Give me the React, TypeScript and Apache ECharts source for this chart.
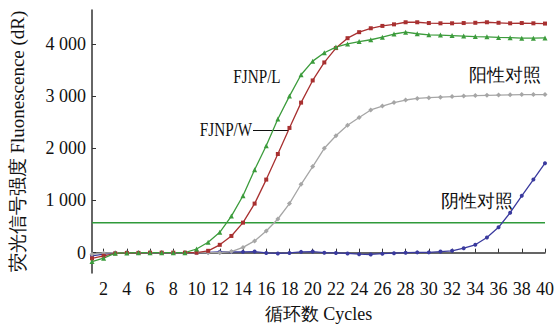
import React, { useEffect, useRef } from "react";
import * as echarts from "echarts";

const cycles = Array.from({ length: 40 }, (_, i) => i + 1);

const fjnpL = [-170, -105, -10, -5, 0, 0, 0, 0, 0, 70, 200, 390, 700, 1090, 1590, 2050, 2560, 3000, 3410, 3670, 3830, 3940, 4000, 4045, 4080, 4130, 4190, 4225, 4195, 4175, 4170, 4160, 4150, 4140, 4135, 4125, 4120, 4110, 4110, 4115];
const fjnpW = [-110, -60, -15, -5, -5, 0, 0, 0, 0, 0, 35, 150, 320, 575, 940, 1400, 1890, 2390, 2875, 3300, 3645, 3920, 4110, 4225, 4300, 4345, 4375, 4415, 4415, 4400, 4395, 4395, 4400, 4405, 4415, 4405, 4395, 4400, 4395, 4390];
const positive = [-30, -10, 0, 0, 0, 0, 0, 0, 0, 0, 0, 0, 20, 100, 225, 415, 645, 940, 1310, 1650, 2000, 2240, 2440, 2590, 2735, 2810, 2875, 2925, 2955, 2970, 2980, 2990, 3000, 3010, 3015, 3020, 3025, 3030, 3030, 3030];
const negative = [-60, -30, -5, 0, 0, 0, 0, 0, 0, 0, 5, 15, 15, 15, 20, -5, -15, -5, 15, 20, 0, -5, -15, -30, -35, -20, -10, 0, 5, 5, 20, 35, 85, 150, 290, 485, 765, 1090, 1400, 1715];
const threshold = 575;

const xTicks = [2, 4, 6, 8, 10, 12, 14, 16, 18, 20, 22, 24, 26, 28, 30, 32, 34, 36, 38, 40];
const yTicks = [0, 1000, 2000, 3000, 4000];

const FONT = "Liberation Serif";

const pair = (vals: number[]) => cycles.map((c, i) => [c, vals[i]]);

export default function App() {
  const ref = useRef<HTMLDivElement>(null);
  useEffect(() => {
    if (!ref.current) return;
    const chart = echarts.init(ref.current, null, { renderer: "svg" });
    const lineSeries = (name: string, vals: number[], color: string, symbol: string, size: number) => ({
      name,
      type: "line",
      data: pair(vals),
      symbol,
      symbolSize: size,
      showSymbol: true,
      lineStyle: { color, width: 1.3 },
      itemStyle: { color },
      z: 3,
    });
    const label = (text: string, x: number, y: number, size: number, sx: number) => ({
      type: "text",
      x,
      y,
      scaleX: sx,
      style: { text, fontSize: size, fontFamily: FONT, fill: "#111", align: "center", verticalAlign: "middle" },
    });
    chart.setOption({
      animation: false,
      backgroundColor: "#ffffff",
      textStyle: { fontFamily: FONT },
      grid: { left: 91, right: 9, top: 10, bottom: 53 },
      xAxis: {
        type: "value",
        min: 1,
        max: 40,
        name: "循环数 Cycles",
        nameLocation: "middle",
        nameGap: 32,
        nameTextStyle: { fontSize: 18, color: "#111", fontFamily: FONT },
        axisLine: { show: true, lineStyle: { color: "#333", width: 1.5 } },
        axisTick: { show: true, inside: true, length: 4, customValues: xTicks, lineStyle: { color: "#333" } },
        axisLabel: { customValues: xTicks, fontSize: 18, color: "#111", margin: 7, fontFamily: FONT },
        splitLine: { show: false },
      },
      yAxis: {
        type: "value",
        min: -390,
        max: 4650,
        name: "荧光信号强度 Fluonescence (dR)",
        nameLocation: "middle",
        nameRotate: 90,
        nameGap: 65,
        nameTextStyle: { fontSize: 19, color: "#111", fontFamily: FONT },
        axisLine: { show: true, lineStyle: { color: "#333", width: 1.5 } },
        axisTick: { show: true, inside: true, length: 4, customValues: yTicks, lineStyle: { color: "#333" } },
        axisLabel: {
          customValues: yTicks,
          fontSize: 18,
          color: "#111",
          margin: 6,
          fontFamily: FONT,
          formatter: (v: number) => (v >= 1000 ? `${Math.floor(v / 1000)} ${String(v % 1000).padStart(3, "0")}` : String(v)),
        },
        splitLine: { show: false },
      },
      series: [
        {
          name: "threshold",
          type: "line",
          data: [[1, threshold], [40, threshold]],
          symbol: "none",
          lineStyle: { color: "#2f9a3a", width: 1.5 },
          z: 2,
        },
        lineSeries("阴性对照", negative, "#3a3a9e", "circle", 4),
        lineSeries("阳性对照", positive, "#a6a6a6", "diamond", 5),
        lineSeries("FJNP/W", fjnpW, "#a83030", "rect", 4),
        lineSeries("FJNP/L", fjnpL, "#3c9c3c", "triangle", 5),
      ],
      graphic: [
        label("FJNP/L", 257, 77, 19, 0.8),
        label("FJNP/W", 226, 130, 19, 0.8),
        { type: "line", shape: { x1: 253, y1: 130.5, x2: 289, y2: 130.5 }, style: { stroke: "#111", lineWidth: 1 } },
        label("阳性对照", 505, 75, 18, 1),
        label("阴性对照", 477, 201, 18, 1),
      ],
    });
    return () => chart.dispose();
  }, []);
  return <div ref={ref} style={{ width: 557, height: 328, position: "absolute", left: 0, top: 0 }} />;
}
